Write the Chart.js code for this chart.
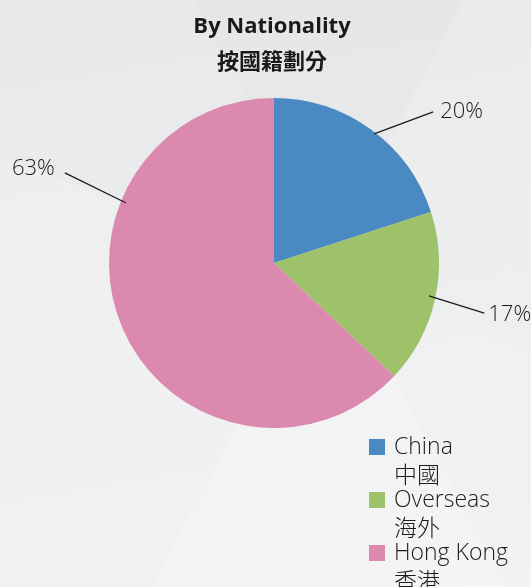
<!DOCTYPE html>
<html><head><meta charset="utf-8">
<script src="https://cdn.jsdelivr.net/npm/chart.js@4/dist/chart.umd.min.js"></script>
<style>
html,body{margin:0;padding:0;width:531px;height:587px;overflow:hidden;}
body{
  background:
    linear-gradient(118deg, rgba(255,255,255,0) 0%, rgba(255,255,255,0) 55%, rgba(255,255,255,0.18) 55%, rgba(255,255,255,0.18) 100%),
    linear-gradient(62deg, rgba(0,0,0,0) 0%, rgba(0,0,0,0) 60%, rgba(0,0,0,0.012) 60%, rgba(0,0,0,0.012) 100%),
    linear-gradient(200deg, rgba(255,255,255,0) 0%, rgba(255,255,255,0) 45%, rgba(255,255,255,0.15) 45%, rgba(255,255,255,0.15) 100%),
    linear-gradient(170deg, #e7e8e9 0%, #ecedee 45%, #f0f0f1 100%);
}
canvas{display:block}
</style></head><body>
<canvas id="c" width="531" height="587"></canvas>
<script>
const categories = ['China', 'Overseas', 'Hong Kong'];
const categoriesZh = ['中國', '海外', '香港'];
const values = [20, 17, 63];
const percentLabels = ['20%', '17%', '63%'];
const colors = ['#4a89c1', '#9dc26a', '#db89ae'];
const titleLines = ['By Nationality', '按國籍劃分'];

const textColor = '#1c1c1c';
const lightFont = '"Open Sans", "Noto Sans CJK TC", sans-serif';

const overlay = {
  id: 'overlay',
  afterDraw(chart, args, opts) {
    const ctx = chart.ctx;
    const meta = chart.getDatasetMeta(0);
    ctx.save();
    // Title
    ctx.fillStyle = '#1a1a1a';
    ctx.textAlign = 'center';
    ctx.textBaseline = 'middle';
    ctx.font = 'bold 22px "Open Sans", "Noto Sans", sans-serif';
    ctx.fillText(titleLines[0], 272, 27);
    ctx.font = 'bold 22px "Noto Sans CJK TC", sans-serif';
    ctx.fillText(titleLines[1], 272, 61);

    // Leader lines and percentage labels
    opts.leaders.forEach((L, i) => {
      const arc = meta.data[i];
      const cx = arc.x, cy = arc.y, R = arc.outerRadius;
      const p = (a, f) => [cx + f * R * Math.sin(a * Math.PI / 180), cy - f * R * Math.cos(a * Math.PI / 180)];
      const s = p(L.a1, L.r1), e = p(L.a2, L.r2);
      ctx.strokeStyle = '#1a1a1a';
      ctx.lineWidth = 1.3;
      ctx.beginPath();
      ctx.moveTo(s[0], s[1]);
      ctx.lineTo(e[0], e[1]);
      ctx.stroke();
      ctx.fillStyle = textColor;
      ctx.font = '300 22px ' + lightFont;
      ctx.textAlign = L.align;
      ctx.textBaseline = 'middle';
      ctx.fillText(percentLabels[i], e[0] + L.dx, e[1] + L.dy);
    });

    // Legend
    const lg = opts.legend;
    categories.forEach((c, i) => {
      const y = lg.y + i * lg.step;
      ctx.fillStyle = colors[i];
      ctx.fillRect(lg.x, y - 8, 16, 16);
      ctx.fillStyle = textColor;
      ctx.textAlign = 'left';
      ctx.textBaseline = 'middle';
      ctx.font = '300 23px ' + lightFont;
      ctx.fillText(c, lg.x + 25, y);
      ctx.font = '300 23px "Noto Sans CJK TC", sans-serif';
      ctx.fillText(categoriesZh[i], lg.x + 25, y + 27);
    });
    ctx.restore();
  }
};

new Chart(document.getElementById('c'), {
  type: 'pie',
  data: {
    labels: categories,
    datasets: [{
      data: values,
      backgroundColor: colors,
      borderWidth: 0,
      hoverOffset: 0
    }]
  },
  options: {
    responsive: false,
    animation: false,
    events: [],
    layout: { padding: { left: 109, top: 98, right: 92, bottom: 159 } },
    plugins: {
      legend: { display: false },
      tooltip: { enabled: false },
      title: { display: false },
      overlay: {
        leaders: [
          { a1: 37.8, r1: 0.99, a2: 46.5, r2: 1.33, align: 'left', dx: 7, dy: 0 },
          { a1: 102, r1: 0.96, a2: 103.4, r2: 1.31, align: 'left', dx: 4, dy: 2 },
          { a1: 292.1, r1: 0.97, a2: 293.3, r2: 1.38, align: 'right', dx: -10, dy: -4 }
        ],
        legend: { x: 369, y: 447, step: 53 }
      }
    }
  },
  plugins: [overlay]
});
</script>
</body></html>
